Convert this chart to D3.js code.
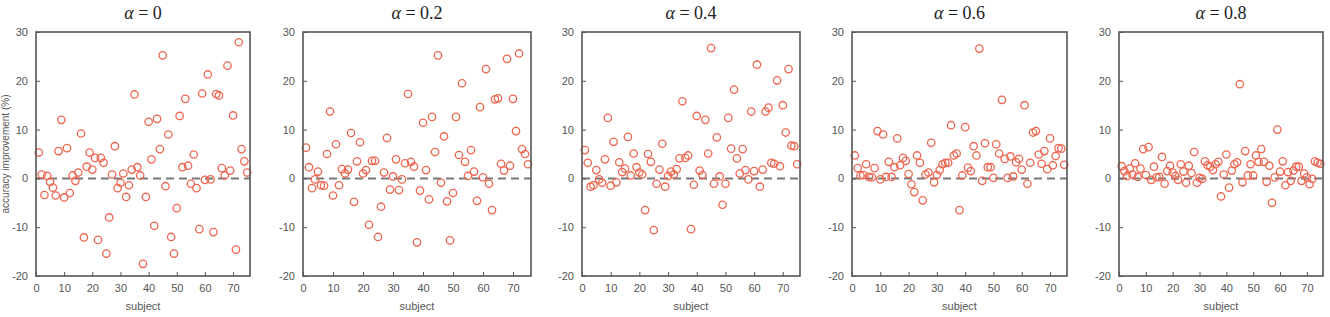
<!DOCTYPE html>
<html lang="en">
<head>
<meta charset="UTF-8">
<script src="https://d3js.org/d3.v7.min.js"></script>
<title>Accuracy improvement per subject</title>
<style>
    body { margin: 0; background: #fff; }
    svg { display: block; }
    .tick text { font-family: "Liberation Sans", Arial, sans-serif; font-size: 11px; fill: #555; }
    .tick line { stroke: #555; stroke-width: 1; }
    .frame { fill: none; stroke: #555; stroke-width: 1.6; }
    .zero { stroke: #777; stroke-width: 2; stroke-dasharray: 8,5; }
    .dot { fill: none; stroke: #ee6650; stroke-width: 1.3; }
    .xlabel { font-family: "Liberation Sans", Arial, sans-serif; font-size: 11px; fill: #555; }
    .ylabel { font-family: "Liberation Sans", Arial, sans-serif; font-size: 10px; fill: #555; }
    .title { font-family: "Liberation Serif", "DejaVu Serif", serif; font-size: 18px; fill: #222; }
</style>
</head>
<body>
<svg width="1330" height="317"></svg>
<script>
    // one panel per alpha, subjects 1..75
    const alphas = ['0', '0.2', '0.4', '0.6', '0.8'];
    const subjects = d3.range(1, 76);
    const xTicks = [0, 10, 20, 30, 40, 50, 60, 70];
    const yTicks = [-20, -10, 0, 10, 20, 30];

    const improvementA00 = [5.3, 0.8, -3.4, 0.5, -0.7, -1.9, -3.5, 5.6, 12, -3.9, 6.2, -3, 0.6, -0.5, 1.2, 9.2, -12.1, 2.4, 5.3, 1.8,
        4.2, -12.6, 4.2, 3.2, -15.4, -8, 0.8, 6.6, -2, -0.9, 1.0, -3.8, -1.4, 1.8, 17.2, 2.3, 0.6, -17.5, -3.8, 11.6,
        3.9, -9.7, 12.2, 6, 25.2, -1.6, 9, -12, -15.4, -6.1, 12.8, 2.3, 16.3, 2.6, -1.1, 4.9, -2, -10.4, 17.4, -0.3,
        21.3, -0.2, -11, 17.3, 17, 2.1, 0.6, 23.1, 1.6, 12.9, -14.6, 27.9, 6, 3.5, 1.2];
    const improvementA02 = [6.3, 2.3, -2, -0.2, 1.4, -1.4, -1.5, 5, 13.7, -3.5, 7, -1.4, 1.9, 1, 1.8, 9.3, -4.8, 3.5, 7.4, 1,
        1.7, -9.5, 3.6, 3.6, -12, -5.8, 1.2, 8.3, -2.3, 0.4, 3.9, -2.4, -0.2, 3.1, 17.3, 3.4, 2.4, -13.1, -2.5, 11.4,
        1.7, -4.3, 12.6, 5.4, 25.2, -0.9, 8.6, -4.7, -12.7, -3, 12.6, 4.8, 19.5, 3.4, 0.5, 5.8, 1.4, -4.6, 14.6, 0.2,
        22.4, -1.1, -6.5, 16.2, 16.4, 3, 1.6, 24.5, 2.6, 16.3, 9.7, 25.6, 6, 5, 2.9];
    const improvementA04 = [5.8, 3.2, -1.7, -1.4, 1.7, -0.2, -0.9, 3.9, 12.4, -1.5, 7.5, -0.8, 3.3, 1.3, 2, 8.5, 0.6, 5.1, 2.3, 1.2,
        0.8, -6.5, 5, 3.4, -10.6, -1.1, 1.8, 7.1, -1.7, 0.5, 1.4, 0.8, 1.9, 4.1, 15.8, 4.2, 4.7, -10.4, -1.3, 12.8,
        1.6, 0.7, 12, 5.1, 26.7, -1.1, 8.4, 0.4, -5.4, -1.1, 12.4, 6.1, 18.2, 4.1, 1, 6, 1.7, -0.2, 13.7, 1.5,
        23.3, -1.7, 1.8, 13.7, 14.5, 3.2, 3, 20.1, 2.5, 15, 9.4, 22.4, 6.7, 6.6, 2.9];
    const improvementA06 = [4.7, 2.1, 0.6, 0.7, 2.9, 0.3, 0.2, 2.1, 9.7, -0.2, 9, 0.3, 3.4, 0.3, 2.3, 8.2, 2.7, 4.2, 3.6, 0.9,
        -1.2, -2.8, 4.7, 3.2, -4.5, 0.8, 1.2, 7.3, -0.8, 0.7, 1.7, 2.9, 3.2, 3.2, 10.9, 4.7, 5.1, -6.5, 0.6, 10.5,
        2.2, 1.5, 6.6, 4.7, 26.6, -0.5, 7.2, 2.3, 2.3, 0.1, 7, 5.1, 16.1, 4, 0.1, 4.5, 0.4, 3.3, 4, 1.8,
        15, -1.1, 3.2, 9.4, 9.7, 4.9, 3, 5.6, 1.9, 8.2, 2.7, 4.6, 6.2, 6.1, 2.8];
    const improvementA08 = [2.5, 1.5, 0.5, 2, 0.8, 3.1, 0.3, 2, 6, 0.7, 6.4, -0.3, 2.4, 0.2, 0.3, 4.4, -1.1, 1.5, 2.6, 1.2,
        0.5, -0.3, 2.9, 1.4, -0.9, 2.6, 1.1, 5.4, -0.9, 0.1, -0.1, 3.5, 2.7, 2.4, 1.7, 2.9, 3.4, -3.7, 0.8, 4.9,
        -1.9, 1.6, 2.9, 3.3, 19.3, -0.8, 5.6, 0.6, 2.9, 0.6, 4.7, 3.4, 6, 3.4, -0.7, 2.6, -5, 0.2, 10, 1.4,
        3.5, -1.4, 1.3, -0.5, 1.6, 2.4, 2.4, -0.5, 1, 0.2, -1.2, -0.1, 3.5, 3.2, 3];

    const series = [improvementA00, improvementA02, improvementA04, improvementA06, improvementA08];

    // layout of the five plot boxes
    const panelLeft = [36, 303, 582, 852, 1119];
    const panelRight = [250, 531, 800, 1067, 1323];
    const plotTop = 32;
    const plotBottom = 276;

    const svg = d3.select('svg');

    const y = d3.scaleLinear().domain([-20, 30]).range([plotBottom, plotTop]);

    alphas.forEach((alpha, i) => {
        const x = d3.scaleLinear().domain([0, 76]).range([panelLeft[i], panelRight[i]]);
        const g = svg.append('g');

        g.append('line')
            .attr('class', 'zero')
            .attr('x1', x(0))
            .attr('x2', x(76))
            .attr('y1', y(0))
            .attr('y2', y(0));

        g.append('g')
            .selectAll('circle')
            .data(subjects)
            .enter().append('circle')
            .attr('class', 'dot')
            .attr('cx', d => x(d))
            .attr('cy', (d, k) => y(series[i][k]))
            .attr('r', 3.7);

        const xAxis = g.append('g')
            .attr('transform', `translate(0,${plotBottom})`)
            .call(d3.axisBottom(x).tickValues(xTicks).tickSize(-4).tickPadding(8));
        xAxis.select('.domain').remove();

        // plain hyphen for negatives, like the original figure
        const yAxis = g.append('g')
            .attr('transform', `translate(${panelLeft[i]},0)`)
            .call(d3.axisLeft(y).tickValues(yTicks).tickSize(-4).tickPadding(8).tickFormat(d => String(d)));
        yAxis.select('.domain').remove();

        g.append('rect')
            .attr('class', 'frame')
            .attr('x', panelLeft[i])
            .attr('y', plotTop)
            .attr('width', panelRight[i] - panelLeft[i])
            .attr('height', plotBottom - plotTop);

        const title = g.append('text')
            .attr('class', 'title')
            .attr('x', (panelLeft[i] + panelRight[i]) / 2)
            .attr('y', 19)
            .attr('text-anchor', 'middle');
        title.append('tspan').attr('font-style', 'italic').text('α');
        title.append('tspan').text(` = ${alpha}`);

        g.append('text')
            .attr('class', 'xlabel')
            .attr('x', (panelLeft[i] + panelRight[i]) / 2)
            .attr('y', 310)
            .attr('text-anchor', 'middle')
            .text('subject');
    });

    svg.append('text')
        .attr('class', 'ylabel')
        .attr('transform', `translate(9,${(plotTop + plotBottom) / 2}) rotate(-90)`)
        .attr('text-anchor', 'middle')
        .text('accuracy improvement (%)');
</script>
</body>
</html>
